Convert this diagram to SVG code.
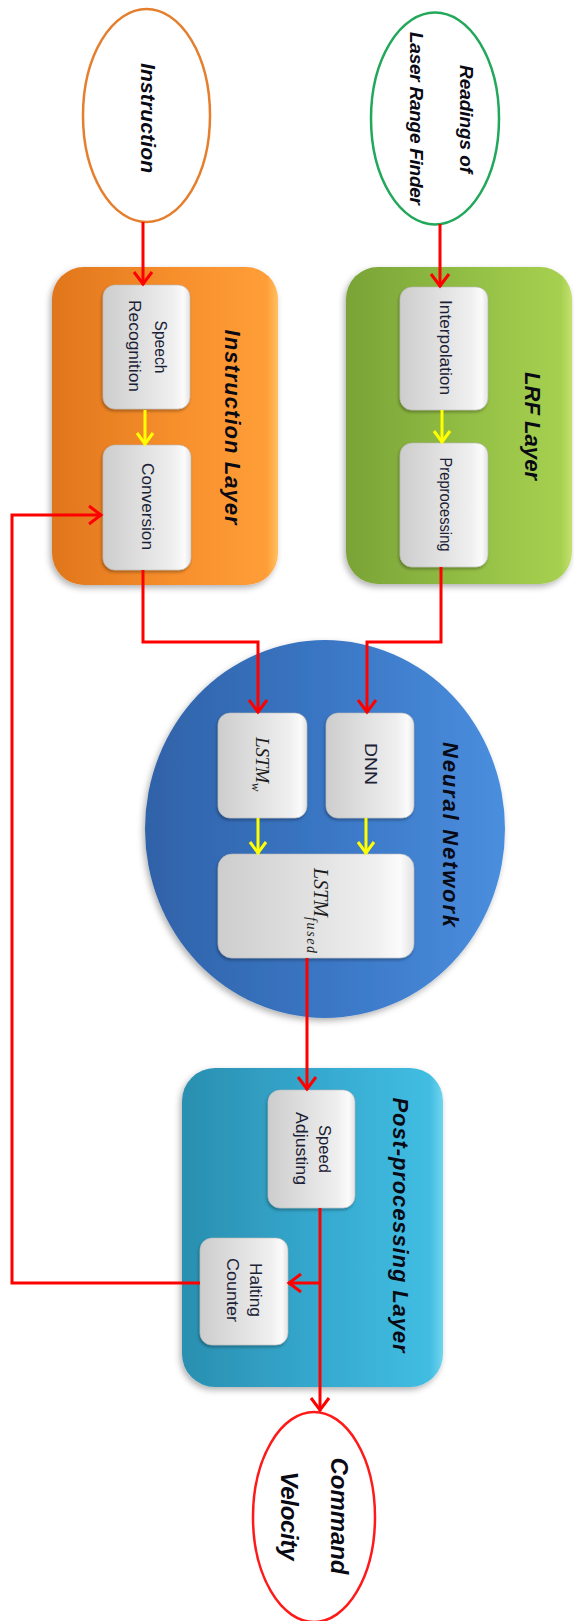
<svg xmlns="http://www.w3.org/2000/svg" width="574" height="1621" viewBox="0 0 574 1621">
  <style>
    .title { font-family: "Liberation Sans", Arial, sans-serif; font-weight: bold; font-style: italic; fill: #0a0a14; }
    .label { font-family: "Liberation Sans", Arial, sans-serif; font-size: 17px; fill: #1c2236; }
    .math { font-family: "Liberation Serif", "DejaVu Serif", serif; font-style: italic; fill: #1c1c1c; }
    .wire { fill: none; stroke: #ff0000; stroke-width: 3; stroke-linejoin: miter; }
    .inner { fill: none; stroke: #ffff00; stroke-width: 3; }
    .step { fill: url(#stepFill); stroke: #b8b8b8; stroke-width: 0.6; filter: url(#stepShadow); }
  </style>
  <defs>
    <linearGradient id="orangeFill" x1="0" y1="0" x2="1" y2="0">
      <stop offset="0" stop-color="#e0761c"/>
      <stop offset="0.55" stop-color="#f78f2c"/>
      <stop offset="0.95" stop-color="#ff9e38"/>
      <stop offset="1" stop-color="#ffc060"/>
    </linearGradient>
    <linearGradient id="greenFill" x1="0" y1="0" x2="1" y2="0">
      <stop offset="0" stop-color="#7aa336"/>
      <stop offset="0.55" stop-color="#93bf45"/>
      <stop offset="0.95" stop-color="#a6d04f"/>
      <stop offset="1" stop-color="#c4e070"/>
    </linearGradient>
    <linearGradient id="blueFill" x1="0" y1="0" x2="1" y2="0">
      <stop offset="0" stop-color="#2f62a8"/>
      <stop offset="0.5" stop-color="#3a76c4"/>
      <stop offset="1" stop-color="#4a8ede"/>
    </linearGradient>
    <linearGradient id="cyanFill" x1="0" y1="0" x2="1" y2="0">
      <stop offset="0" stop-color="#2a8fb0"/>
      <stop offset="0.55" stop-color="#36aad0"/>
      <stop offset="0.95" stop-color="#42bde2"/>
      <stop offset="1" stop-color="#70d4ee"/>
    </linearGradient>
    <linearGradient id="stepFill" x1="0" y1="0" x2="1" y2="0">
      <stop offset="0" stop-color="#cdcdcd"/>
      <stop offset="0.35" stop-color="#dcdcdc"/>
      <stop offset="0.8" stop-color="#efefef"/>
      <stop offset="0.93" stop-color="#fbfbfb"/>
      <stop offset="1" stop-color="#e2e2e2"/>
    </linearGradient>
    <filter id="layerShadow" x="-10%" y="-10%" width="120%" height="120%">
      <feDropShadow dx="-2" dy="3" stdDeviation="3" flood-color="#000" flood-opacity="0.3"/>
    </filter>
    <filter id="stepShadow" x="-10%" y="-10%" width="120%" height="120%">
      <feDropShadow dx="-1" dy="2" stdDeviation="1.5" flood-color="#000" flood-opacity="0.3"/>
    </filter>
    <marker id="redHead" markerUnits="userSpaceOnUse" viewBox="-16 -11 18 22" refX="0" refY="0" markerWidth="18" markerHeight="22" orient="auto">
      <path d="M -13 -9 L -1 0 L -13 9" fill="none" stroke="#ff0000" stroke-width="3"/>
    </marker>
    <marker id="yellowHead" markerUnits="userSpaceOnUse" viewBox="-16 -11 18 22" refX="0" refY="0" markerWidth="18" markerHeight="22" orient="auto">
      <path d="M -12 -8 L -1 0 L -12 8" fill="none" stroke="#ffff00" stroke-width="3"/>
    </marker>
  </defs>

  <rect width="574" height="1621" fill="#ffffff"/>

  <!-- input: spoken instruction -->
  <g id="instruction">
    <ellipse cx="146.5" cy="115.5" rx="63.5" ry="106.5" fill="#ffffff" stroke="#e57f2e" stroke-width="2.5"/>
    <text class="title" font-size="21" text-anchor="middle" dominant-baseline="central" textLength="110" transform="translate(148,118) rotate(90)">Instruction</text>
  </g>

  <!-- input: laser range finder -->
  <g id="lrf-readings">
    <ellipse cx="435" cy="118.5" rx="64" ry="106" fill="#ffffff" stroke="#22a85a" stroke-width="2.5"/>
    <text class="title" font-size="19" text-anchor="middle" dominant-baseline="central" textLength="108" transform="translate(466,119) rotate(90)">Readings of</text>
    <text class="title" font-size="19" text-anchor="middle" dominant-baseline="central" textLength="173" transform="translate(416,118.5) rotate(90)">Laser Range Finder</text>
  </g>

  <!-- instruction layer -->
  <g id="instruction-layer">
    <rect x="52" y="267" width="226" height="318" rx="32" fill="url(#orangeFill)" filter="url(#layerShadow)"/>
    <text class="title" font-size="22" text-anchor="middle" dominant-baseline="central" textLength="195" transform="translate(232,427) rotate(90)">Instruction Layer</text>
  </g>
  <g id="speech-recognition">
    <rect class="step" x="103" y="285" width="87" height="124" rx="12"/>
    <text class="label" text-anchor="middle" dominant-baseline="central" textLength="53" lengthAdjust="spacingAndGlyphs" transform="translate(160,347) rotate(90)">Speech</text>
    <text class="label" text-anchor="middle" dominant-baseline="central" textLength="92" lengthAdjust="spacingAndGlyphs" transform="translate(134,346) rotate(90)">Recognition</text>
  </g>
  <g id="conversion">
    <rect class="step" x="103" y="445" width="88" height="125" rx="12"/>
    <text class="label" text-anchor="middle" dominant-baseline="central" textLength="87" lengthAdjust="spacingAndGlyphs" transform="translate(147,506.5) rotate(90)">Conversion</text>
  </g>

  <!-- LRF layer -->
  <g id="lrf-layer">
    <rect x="346" y="267" width="226" height="317" rx="32" fill="url(#greenFill)" filter="url(#layerShadow)"/>
    <text class="title" font-size="22" text-anchor="middle" dominant-baseline="central" textLength="108" transform="translate(532,426) rotate(90)">LRF Layer</text>
  </g>
  <g id="interpolation">
    <rect class="step" x="400" y="287" width="88" height="123" rx="12"/>
    <text class="label" text-anchor="middle" dominant-baseline="central" textLength="95" lengthAdjust="spacingAndGlyphs" transform="translate(445,347.5) rotate(90)">Interpolation</text>
  </g>
  <g id="preprocessing">
    <rect class="step" x="400" y="443" width="88" height="124" rx="12"/>
    <text class="label" text-anchor="middle" dominant-baseline="central" textLength="94" lengthAdjust="spacingAndGlyphs" transform="translate(445,504.5) rotate(90)">Preprocessing</text>
  </g>

  <!-- neural network -->
  <g id="neural-network">
    <ellipse cx="325" cy="829" rx="180" ry="189" fill="url(#blueFill)" filter="url(#layerShadow)"/>
    <text class="title" font-size="22" text-anchor="middle" dominant-baseline="central" textLength="185" transform="translate(450,834.5) rotate(90)">Neural Network</text>
  </g>
  <g id="lstm-w">
    <rect class="step" x="218" y="713" width="89" height="105" rx="12"/>
    <text class="math" font-size="19" dominant-baseline="central" transform="translate(263,737) rotate(90)"><tspan textLength="46">LSTM</tspan><tspan font-size="13" dy="6">w</tspan></text>
  </g>
  <g id="dnn">
    <rect class="step" x="326" y="713" width="88" height="105" rx="12"/>
    <text class="label" text-anchor="middle" dominant-baseline="central" textLength="42" lengthAdjust="spacingAndGlyphs" transform="translate(370,764) rotate(90)">DNN</text>
  </g>
  <g id="lstm-fused">
    <rect class="step" x="218" y="854" width="196" height="104" rx="14"/>
    <text class="math" font-size="20" dominant-baseline="central" transform="translate(321,868) rotate(90)"><tspan textLength="49">LSTM</tspan><tspan font-size="14" dy="9" textLength="36">fused</tspan></text>
  </g>

  <!-- post-processing layer -->
  <g id="post-processing-layer">
    <rect x="182" y="1068" width="261" height="319" rx="33" fill="url(#cyanFill)" filter="url(#layerShadow)"/>
    <text class="title" font-size="22" text-anchor="middle" dominant-baseline="central" textLength="255" transform="translate(400,1225) rotate(90)">Post-processing Layer</text>
  </g>
  <g id="speed-adjusting">
    <rect class="step" x="268" y="1090" width="87" height="118" rx="12"/>
    <text class="label" text-anchor="middle" dominant-baseline="central" textLength="48" lengthAdjust="spacingAndGlyphs" transform="translate(324,1149) rotate(90)">Speed</text>
    <text class="label" text-anchor="middle" dominant-baseline="central" textLength="73" lengthAdjust="spacingAndGlyphs" transform="translate(301,1148.5) rotate(90)">Adjusting</text>
  </g>
  <g id="halting-counter">
    <rect class="step" x="200" y="1238" width="88" height="107" rx="12"/>
    <text class="label" text-anchor="middle" dominant-baseline="central" textLength="54" lengthAdjust="spacingAndGlyphs" transform="translate(255,1290) rotate(90)">Halting</text>
    <text class="label" text-anchor="middle" dominant-baseline="central" textLength="64" lengthAdjust="spacingAndGlyphs" transform="translate(232,1290) rotate(90)">Counter</text>
  </g>

  <!-- output -->
  <g id="command-velocity">
    <ellipse cx="314" cy="1517" rx="61" ry="105" fill="#ffffff" stroke="#ff1a1a" stroke-width="2.5"/>
    <text class="title" font-size="24" text-anchor="middle" dominant-baseline="central" textLength="117" transform="translate(339,1516) rotate(90)">Command</text>
    <text class="title" font-size="24" text-anchor="middle" dominant-baseline="central" textLength="89" transform="translate(289,1516) rotate(90)">Velocity</text>
  </g>

  <!-- connectors -->
  <g id="connectors">
    <path class="wire" d="M 143 222 L 143 285" marker-end="url(#redHead)"/>
    <path class="wire" d="M 440 224 L 440 287" marker-end="url(#redHead)"/>
    <path class="inner" d="M 145 410 L 145 445" marker-end="url(#yellowHead)"/>
    <path class="inner" d="M 442 410 L 442 443" marker-end="url(#yellowHead)"/>
    <path class="wire" d="M 143 570 L 143 642 L 258 642 L 258 713" marker-end="url(#redHead)"/>
    <path class="wire" d="M 441 567 L 441 642 L 367 642 L 367 713" marker-end="url(#redHead)"/>
    <path class="inner" d="M 258 818 L 258 854" marker-end="url(#yellowHead)"/>
    <path class="inner" d="M 366 818 L 366 854" marker-end="url(#yellowHead)"/>
    <path class="wire" d="M 307 958 L 307 1090" marker-end="url(#redHead)"/>
    <path class="wire" d="M 320 1208 L 320 1411" marker-end="url(#redHead)"/>
    <path class="wire" d="M 320 1283 L 288 1283" marker-end="url(#redHead)"/>
    <path class="wire" d="M 200 1283 L 12 1283 L 12 515 L 102 515" marker-end="url(#redHead)"/>
  </g>
</svg>
